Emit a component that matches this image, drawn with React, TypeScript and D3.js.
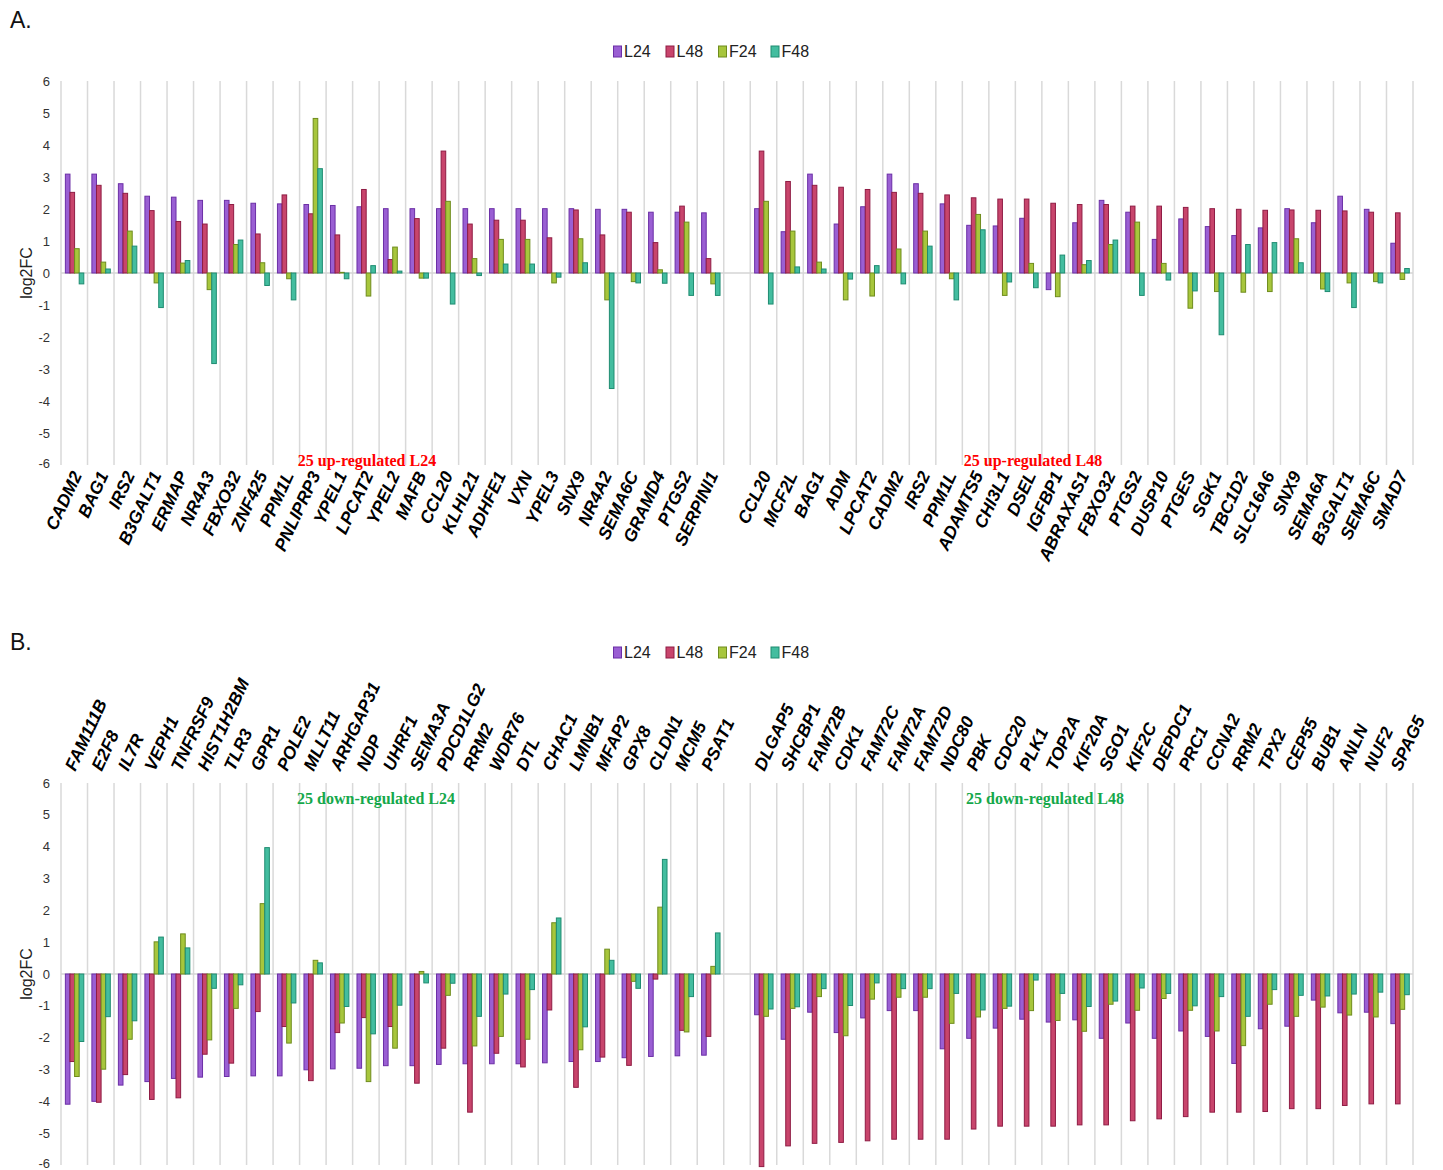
import React from 'react';
import * as d3 from 'd3';

// ---------- data ----------
const SERIES = ['L24', 'L48', 'F24', 'F48'];
const FILLS = ['#9a5fd3', '#c8456c', '#a7c63c', '#43bd9f'];
const STROKES = ['#6b2fa6', '#8f1c44', '#6f8c1d', '#1f8c71'];
const Y_TICKS = [6, 5, 4, 3, 2, 1, 0, -1, -2, -3, -4, -5, -6];

// Panel A, left group: 25 up-regulated L24
const genesUpL24 = ['CADM2', 'BAG1', 'IRS2', 'B3GALT1', 'ERMAP', 'NR4A3', 'FBXO32', 'ZNF425', 'PPM1L', 'PNLIPRP3', 'YPEL1', 'LPCAT2', 'YPEL2', 'MAFB', 'CCL20', 'KLHL21', 'ADHFE1', 'VXN', 'YPEL3', 'SNX9', 'NR4A2', 'SEMA6C', 'GRAMD4', 'PTGS2', 'SERPINI1'];
const upL24_L24 = [3.09, 3.09, 2.79, 2.40, 2.37, 2.27, 2.27, 2.18, 2.16, 2.14, 2.11, 2.07, 2.01, 2.01, 2.01, 2.01, 2.01, 2.01, 2.01, 2.01, 1.99, 1.99, 1.90, 1.90, 1.88];
const upL24_L48 = [2.52, 2.74, 2.49, 1.95, 1.61, 1.53, 2.14, 1.22, 2.44, 1.85, 1.19, 2.61, 0.42, 1.70, 3.81, 1.53, 1.65, 1.65, 1.10, 1.97, 1.19, 1.90, 0.95, 2.09, 0.45];
const upL24_F24 = [0.76, 0.34, 1.31, -0.31, 0.31, -0.52, 0.89, 0.32, -0.18, 4.83, 0.02, -0.72, 0.81, -0.16, 2.24, 0.45, 1.05, 1.05, -0.31, 1.07, -0.84, -0.27, 0.10, 1.59, -0.34];
const upL24_F48 = [-0.34, 0.125, 0.84, -1.08, 0.39, -2.83, 1.03, -0.39, -0.84, 3.26, -0.18, 0.23, 0.06, -0.16, -0.97, -0.08, 0.28, 0.28, -0.13, 0.32, -3.61, -0.31, -0.32, -0.70, -0.70];

// Panel A, right group: 25 up-regulated L48
const genesUpL48 = ['CCL20', 'MCF2L', 'BAG1', 'ADM', 'LPCAT2', 'CADM2', 'IRS2', 'PPM1L', 'ADAMTS5', 'CHI3L1', 'DSEL', 'IGFBP1', 'ABRAXAS1', 'FBXO32', 'PTGS2', 'DUSP10', 'PTGES', 'SGK1', 'TBC1D2', 'SLC16A6', 'SNX9', 'SEMA6A', 'B3GALT1', 'SEMA6C', 'SMAD7'];
const upL48_L24 = [2.01, 1.29, 3.09, 1.53, 2.07, 3.09, 2.79, 2.16, 1.49, 1.47, 1.71, -0.52, 1.57, 2.27, 1.90, 1.05, 1.69, 1.45, 1.17, 1.41, 2.01, 1.57, 2.40, 1.99, 0.93];
const upL48_L48 = [3.81, 2.86, 2.74, 2.68, 2.61, 2.52, 2.49, 2.44, 2.35, 2.31, 2.31, 2.18, 2.14, 2.14, 2.09, 2.09, 2.05, 2.01, 1.99, 1.96, 1.97, 1.96, 1.94, 1.90, 1.88];
const upL48_F24 = [2.24, 1.31, 0.34, -0.84, -0.72, 0.75, 1.31, -0.18, 1.83, -0.70, 0.30, -0.74, 0.26, 0.89, 1.59, 0.30, -1.10, -0.58, -0.60, -0.58, 1.07, -0.50, -0.31, -0.27, -0.20];
const upL48_F48 = [-0.97, 0.19, 0.125, -0.19, 0.23, -0.34, 0.84, -0.84, 1.35, -0.28, -0.46, 0.56, 0.39, 1.03, -0.70, -0.22, -0.56, -1.93, 0.89, 0.95, 0.32, -0.58, -1.08, -0.31, 0.14];

// Panel B, left group: 25 down-regulated L24
const genesDownL24 = ['FAM111B', 'E2F8', 'IL7R', 'VEPH1', 'TNFRSF9', 'HIST1H2BM', 'TLR3', 'GPR1', 'POLE2', 'MLLT11', 'ARHGAP31', 'NDP', 'UHRF1', 'SEMA3A', 'PDCD1LG2', 'RRM2', 'WDR76', 'DTL', 'CHAC1', 'LMNB1', 'MFAP2', 'GPX8', 'CLDN1', 'MCM5', 'PSAT1'];
const downL24_L24 = [-4.09, -4.00, -3.49, -3.38, -3.28, -3.24, -3.22, -3.20, -3.20, -3.01, -2.98, -2.96, -2.88, -2.88, -2.84, -2.82, -2.82, -2.82, -2.79, -2.75, -2.75, -2.63, -2.59, -2.57, -2.55];
const downL24_L48 = [-2.75, -4.03, -3.16, -3.94, -3.89, -2.52, -2.80, -1.18, -1.65, -3.35, -1.84, -1.37, -1.65, -3.43, -2.33, -4.34, -2.49, -2.92, -1.13, -3.56, -2.61, -2.87, -0.16, -1.77, -1.96];
const downL24_F24 = [-3.22, -2.99, -2.05, 1.01, 1.26, -2.07, -1.08, 2.21, -2.17, 0.43, -1.54, -3.38, -2.33, 0.08, -0.67, -2.26, -1.96, -2.05, 1.61, -2.38, 0.78, -0.23, 2.10, -1.82, 0.24];
const downL24_F48 = [-2.12, -1.34, -1.47, 1.16, 0.82, -0.45, -0.34, 3.97, -0.91, 0.35, -1.02, -1.88, -0.98, -0.28, -0.29, -1.33, -0.63, -0.49, 1.76, -1.66, 0.43, -0.45, 3.60, -0.71, 1.29];

// Panel B, right group: 25 down-regulated L48
const genesDownL48 = ['DLGAP5', 'SHCBP1', 'FAM72B', 'CDK1', 'FAM72C', 'FAM72A', 'FAM72D', 'NDC80', 'PBK', 'CDC20', 'PLK1', 'TOP2A', 'KIF20A', 'SGO1', 'KIF2C', 'DEPDC1', 'PRC1', 'CCNA2', 'RRM2', 'TPX2', 'CEP55', 'BUB1', 'ANLN', 'NUF2', 'SPAG5'];
const downL48_L24 = [-1.28, -2.05, -1.20, -1.84, -1.38, -1.15, -1.15, -2.35, -2.02, -1.70, -1.42, -1.51, -1.44, -2.02, -1.54, -2.02, -1.79, -1.96, -2.81, -1.72, -1.64, -0.82, -1.22, -1.20, -1.56];
const downL48_L48 = [-6.05, -5.40, -5.32, -5.29, -5.24, -5.19, -5.19, -5.19, -4.87, -4.78, -4.78, -4.78, -4.74, -4.74, -4.61, -4.55, -4.48, -4.34, -4.34, -4.32, -4.23, -4.23, -4.13, -4.08, -4.08];
const downL48_F24 = [-1.33, -1.08, -0.71, -1.94, -0.79, -0.73, -0.73, -1.55, -1.35, -1.08, -1.15, -1.46, -1.80, -0.95, -1.14, -0.77, -1.14, -1.79, -2.25, -0.95, -1.33, -1.04, -1.29, -1.35, -1.11];
const downL48_F48 = [-1.10, -1.03, -0.46, -0.99, -0.28, -0.46, -0.46, -0.61, -1.13, -1.01, -0.19, -0.61, -1.02, -0.85, -0.44, -0.61, -1.00, -0.71, -1.33, -0.49, -0.67, -0.69, -0.63, -0.57, -0.65];

// ---------- drawing ----------
const W = 1443;
const H = 1170;
const PLOT_LEFT = 61;
const PLOT_RIGHT = 1413;
const SANS = '"Liberation Sans", Arial, sans-serif';
const SERIF = '"Liberation Serif", "Times New Roman", serif';
const LABEL_ANGLE = -65;
const LABEL_SIZE = 17.5;

type PanelProps = {
  letter: string;
  letterY: number;
  legendY: number;
  yTop: number;
  yBottom: number;
  leftGenes: string[];
  rightGenes: string[];
  leftVals: number[][];
  rightVals: number[][];
  labelsAbove: boolean;
  notes: { text: string; x: number; y: number; color: string }[];
};

function Panel(p: PanelProps) {
  const nSlots = p.leftGenes.length + 1 + p.rightGenes.length;
  const slotIdx = d3.range(nSlots);
  const x = d3.scaleBand<number>().domain(slotIdx).range([PLOT_LEFT, PLOT_RIGHT]).paddingInner(0).paddingOuter(0);
  const bw = x.bandwidth();
  const inner = d3.scaleBand<string>().domain(SERIES).range([bw * 0.165, bw * 0.86]).padding(0);
  const y = d3.scaleLinear().domain([-6, 6]).range([p.yBottom, p.yTop]);

  type Item = { slot: number; gene: string; vals: number[] };
  const items: Item[] = [];
  p.leftGenes.forEach((g, i) => items.push({ slot: i, gene: g, vals: p.leftVals.map((s) => s[i]) }));
  p.rightGenes.forEach((g, i) => items.push({ slot: p.leftGenes.length + 1 + i, gene: g, vals: p.rightVals.map((s) => s[i]) }));

  const boundaries = d3.range(nSlots + 1).map((i) => PLOT_LEFT + i * bw);
  const legendX0 = 613;
  const legendStep = 52.5;

  return (
    <g>
      <text x={10} y={p.letterY} fontFamily={SANS} fontSize={23} fill="#111">{p.letter}</text>
      {/* legend */}
      {SERIES.map((s, i) => (
        <g key={s} transform={`translate(${legendX0 + i * legendStep},${p.legendY})`}>
          <rect x={0.5} y={-11} width={8} height={11} fill={FILLS[i]} stroke={STROKES[i]} strokeWidth={1} />
          <text x={11} y={0} fontFamily={SANS} fontSize={16} fill="#222">{s}</text>
        </g>
      ))}
      {/* vertical gridlines */}
      {boundaries.map((bx, i) => (
        <line key={i} x1={bx} x2={bx} y1={y(6)} y2={y(-6)} stroke="#d9d9d9" strokeWidth={1.5} />
      ))}
      {/* zero line */}
      <line x1={PLOT_LEFT} x2={PLOT_RIGHT} y1={y(0)} y2={y(0)} stroke="#d4d4d4" strokeWidth={1.5} />
      {/* y ticks */}
      {Y_TICKS.map((t) => (
        <text key={t} x={50} y={y(t)} dy={t === -6 ? '0.2em' : '0.35em'} textAnchor="end" fontFamily={SANS} fontSize={13} fill="#333">{t}</text>
      ))}
      <text transform={`translate(32,${y(0)}) rotate(-90)`} textAnchor="middle" fontFamily={SANS} fontSize={16} fill="#222">log2FC</text>
      {/* bars */}
      {items.map((it) => (
        <g key={it.slot}>
          {it.vals.map((v, si) => {
            const bx = (x(it.slot) as number) + (inner(SERIES[si]) as number);
            const y0 = y(0);
            const yv = y(v);
            return (
              <rect key={si} x={bx} y={Math.min(y0, yv)} width={inner.bandwidth()} height={Math.abs(yv - y0)}
                fill={FILLS[si]} stroke={STROKES[si]} strokeWidth={1} />
            );
          })}
        </g>
      ))}
      {/* gene labels */}
      {items.map((it) => {
        const cx = (x(it.slot) as number) + bw / 2;
        if (p.labelsAbove) {
          const ax = cx + 1;
          const ay = p.yTop - 11;
          return (
            <text key={'l' + it.slot} transform={`translate(${ax},${ay}) rotate(${LABEL_ANGLE})`} textAnchor="start"
              fontFamily={SANS} fontSize={LABEL_SIZE} fontWeight="bold" fontStyle="italic" fill="#000">{it.gene}</text>
          );
        }
        const ax = cx + 8;
        const ay = p.yBottom + 10;
        return (
          <text key={'l' + it.slot} transform={`translate(${ax},${ay}) rotate(${LABEL_ANGLE})`} textAnchor="end"
            fontFamily={SANS} fontSize={LABEL_SIZE} fontWeight="bold" fontStyle="italic" fill="#000">{it.gene}</text>
        );
      })}
      {/* notes */}
      {p.notes.map((n) => (
        <text key={n.text} x={n.x} y={n.y} textAnchor="middle" fontFamily={SERIF} fontSize={16} fontWeight="bold" fill={n.color}>{n.text}</text>
      ))}
    </g>
  );
}

export default function App() {
  return (
    <div style={{ position: 'absolute', left: 0, top: 0, background: '#fff' }}>
      <svg width={W} height={H} viewBox={`0 0 ${W} ${H}`} style={{ display: 'block' }}>
        <rect x={0} y={0} width={W} height={H} fill="#fff" />
        <Panel
          letter="A."
          letterY={28}
          legendY={57}
          yTop={81}
          yBottom={465}
          leftGenes={genesUpL24}
          rightGenes={genesUpL48}
          leftVals={[upL24_L24, upL24_L48, upL24_F24, upL24_F48]}
          rightVals={[upL48_L24, upL48_L48, upL48_F24, upL48_F48]}
          labelsAbove={false}
          notes={[
            { text: '25 up-regulated L24', x: 367, y: 466, color: '#ff0000' },
            { text: '25 up-regulated L48', x: 1033, y: 466, color: '#ff0000' },
          ]}
        />
        <Panel
          letter="B."
          letterY={650}
          legendY={658}
          yTop={783}
          yBottom={1165}
          leftGenes={genesDownL24}
          rightGenes={genesDownL48}
          leftVals={[downL24_L24, downL24_L48, downL24_F24, downL24_F48]}
          rightVals={[downL48_L24, downL48_L48, downL48_F24, downL48_F48]}
          labelsAbove={true}
          notes={[
            { text: '25 down-regulated L24', x: 376, y: 804, color: '#15a84b' },
            { text: '25 down-regulated L48', x: 1045, y: 804, color: '#15a84b' },
          ]}
        />
      </svg>
    </div>
  );
}
